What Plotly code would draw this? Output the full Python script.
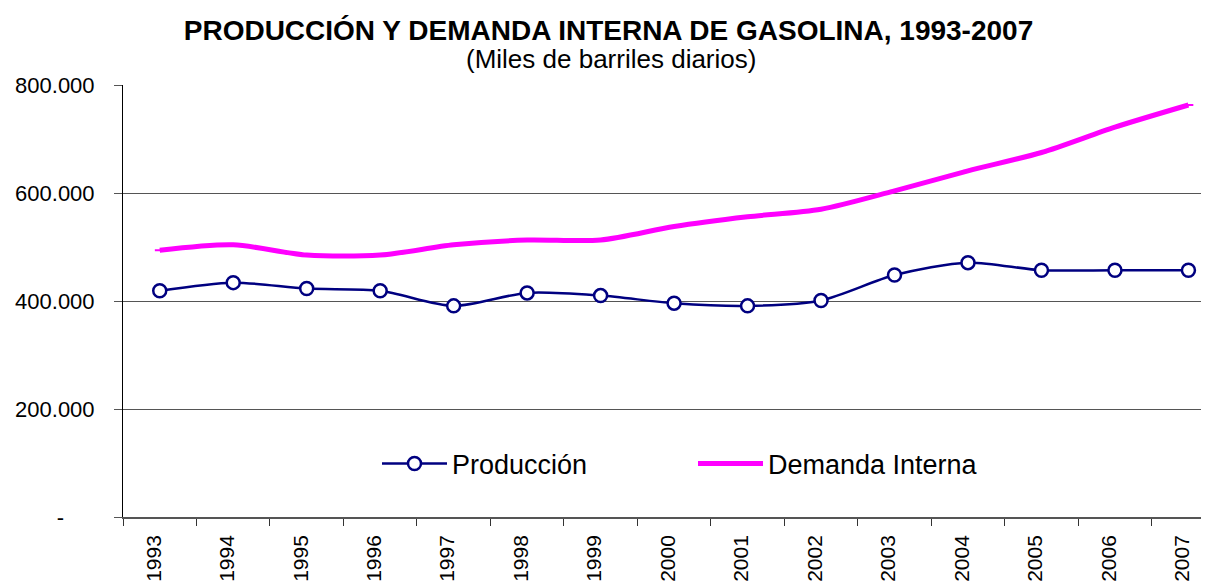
import plotly.graph_objects as go

anios = ["1993", "1994", "1995", "1996", "1997", "1998", "1999", "2000",
         "2001", "2002", "2003", "2004", "2005", "2006", "2007"]
produccion = [419000, 434000, 423000, 419000, 391000, 415000, 410000, 396000,
              391000, 401000, 448000, 471000, 457000, 457000, 457000]
demanda = [494000, 504000, 485000, 485000, 504000, 513000, 513000, 538000,
           556000, 570000, 604000, 641000, 675000, 722000, 763000]
y_ticks = [0, 200000, 400000, 600000, 800000]
y_ticktext = ["-\u00a0\u00a0\u00a0\u00a0\u00a0", "200.000", "400.000", "600.000", "800.000"]

FONT = "Liberation Sans, Arial, sans-serif"
OFF = 8  # page body margin in the browser
WIN_W, WIN_H = 1209, 582
W, H = WIN_W - OFF, WIN_H - OFF
# plot area in window pixels: left 123, top 85, bottom 517, right = window edge
ML, MT = 123 - OFF, 85 - OFF
MB = WIN_H - 517
MR = 0
PW = W - ML - MR
PH = H - MT - MB

def px_x(p):
    return (p - OFF - ML) / PW

def px_y(p):
    return (H - MB - (p - OFF)) / PH

fig = go.Figure()
fig.add_trace(go.Scatter(
    x=anios, y=produccion, name="Producción", mode="lines+markers",
    line=dict(color="#000080", width=2.5, shape="spline", smoothing=0.8),
    marker=dict(symbol="circle", size=13, color="white",
                line=dict(color="#000080", width=2.5)),
))
fig.add_trace(go.Scatter(
    x=anios, y=demanda, name="Demanda Interna", mode="lines+markers",
    line=dict(color="#FF00FF", width=5, shape="spline", smoothing=0.8),
    marker=dict(symbol="line-ew", size=7, color="#FF00FF",
                line=dict(color="#FF00FF", width=2)),
))

fig.update_layout(
    width=W, height=H,
    margin=dict(l=ML, r=MR, t=MT, b=MB, pad=0),
    paper_bgcolor="white", plot_bgcolor="white",
    font=dict(family=FONT, color="black"),
    showlegend=True,
    legend=dict(
        orientation="h", x=px_x(377), y=px_y(464), xanchor="left", yanchor="middle",
        font=dict(size=27, family=FONT, color="black"),
        bgcolor="rgba(0,0,0,0)", borderwidth=0,
        entrywidth=236, entrywidthmode="pixels", itemwidth=65,
    ),
    title=dict(
        text="<b>PRODUCCIÓN Y DEMANDA INTERNA DE GASOLINA, 1993-2007</b>",
        xref="container", yref="container",
        x=(608.5 - OFF) / W, y=1 - (30 - OFF) / H, xanchor="center", yanchor="middle",
        font=dict(size=28, family=FONT, color="black"),
    ),
    annotations=[dict(
        text="(Miles de barriles diarios)", xref="paper", yref="paper",
        x=px_x(611), y=px_y(59), xanchor="center", yanchor="middle",
        showarrow=False, font=dict(size=26, family=FONT, color="black"),
    )],
    xaxis=dict(
        type="category", range=[-0.5, 14.28],
        showgrid=False, showline=True, linecolor="#555555", linewidth=1.5,
        ticks="outside", tickson="boundaries", ticklen=7, tickcolor="#333333",
        tickangle=-90, tickfont=dict(size=21, family=FONT, color="black"),
        ticklabelstandoff=8, ticklabelshift=-6,
        zeroline=False, fixedrange=True,
    ),
    yaxis=dict(
        range=[0, 800000], tickvals=y_ticks, ticktext=y_ticktext,
        showgrid=True, gridcolor="#555555", gridwidth=1,
        showline=True, linecolor="black", linewidth=1,
        ticks="outside", ticklen=8, tickcolor="#555555",
        tickfont=dict(size=22, family=FONT, color="black"),
        ticklabelstandoff=15, zeroline=False, fixedrange=True,
    ),
)

fig.write_html("out.html")
